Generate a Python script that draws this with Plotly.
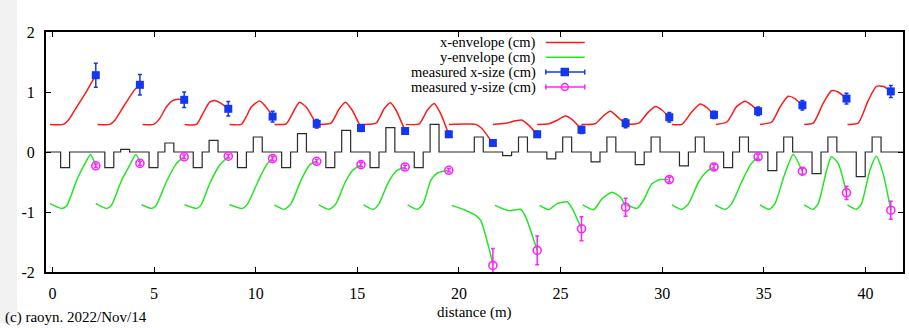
import plotly.graph_objects as go

# ---------------- data ----------------
# measured positions (m)
meas_s = [2.13, 4.30, 6.48, 8.65, 10.83, 13.00, 15.18, 17.35, 19.50, 21.67,
          23.85, 26.03, 28.20, 30.35, 32.55, 34.72, 36.90, 39.07, 41.25]
meas_x = [1.28, 1.12, 0.87, 0.72, 0.59, 0.47, 0.40, 0.35, 0.295, 0.15,
          0.295, 0.37, 0.48, 0.58, 0.62, 0.68, 0.78, 0.89, 1.01]
meas_x_err = [0.20, 0.17, 0.13, 0.12, 0.09, 0.07, 0.06, 0.05, 0.05, 0.05,
              0.05, 0.06, 0.075, 0.08, 0.06, 0.07, 0.08, 0.09, 0.10]
meas_y = [-0.23, -0.19, -0.08, -0.07, -0.11, -0.155, -0.21, -0.25, -0.305, -1.89,
          -1.64, -1.28, -0.92, -0.46, -0.25, -0.08, -0.32, -0.68, -0.97]
meas_y_err = [0.03, 0.03, 0.03, 0.03, 0.03, 0.03, 0.03, 0.03, 0.03, 0.28,
              0.24, 0.20, 0.15, 0.04, 0.04, 0.04, 0.05, 0.11, 0.15]

# x-envelope segments (s, value)
xenv = [
    [(-0.12, 0.46), (0.53, 0.46), (0.78, 0.53), (1.19, 0.75), (1.60, 0.97), (1.84, 1.11), (2.13, 1.28)],
    [(2.22, 0.46), (2.82, 0.46), (3.07, 0.53), (3.48, 0.75), (3.80, 0.92), (4.05, 1.04), (4.30, 1.13)],
    [(4.43, 0.46), (4.98, 0.46), (5.28, 0.56), (5.60, 0.75), (5.93, 0.86), (6.18, 0.88), (6.50, 0.87)],
    [(6.50, 0.46), (7.08, 0.46), (7.40, 0.64), (7.73, 0.83), (7.98, 0.86), (8.30, 0.81), (8.63, 0.72)],
    [(8.71, 0.46), (9.29, 0.46), (9.55, 0.60), (9.78, 0.75), (10.19, 0.85), (10.51, 0.75), (10.84, 0.595)],
    [(10.92, 0.46), (11.50, 0.47), (11.90, 0.70), (12.15, 0.83), (12.48, 0.75), (12.97, 0.47)],
    [(13.10, 0.46), (13.70, 0.48), (14.11, 0.72), (14.41, 0.83), (14.74, 0.70), (15.18, 0.40)],
    [(15.26, 0.46), (15.92, 0.48), (16.32, 0.72), (16.62, 0.82), (16.90, 0.70), (17.34, 0.36)],
    [(17.39, 0.46), (18.04, 0.47), (18.45, 0.70), (18.78, 0.81), (19.10, 0.64), (19.48, 0.31)],
    [(19.51, 0.46), (20.30, 0.465), (20.82, 0.46), (21.10, 0.40), (21.32, 0.31), (21.65, 0.15)],
    [(21.67, 0.46), (22.30, 0.48), (22.79, 0.52), (23.11, 0.53), (23.45, 0.44), (23.85, 0.295)],
    [(23.85, 0.46), (24.42, 0.47), (24.83, 0.53), (25.24, 0.60), (25.60, 0.53), (26.03, 0.37)],
    [(26.03, 0.46), (26.70, 0.47), (27.10, 0.60), (27.45, 0.68), (27.85, 0.57), (28.20, 0.48)],
    [(28.22, 0.46), (28.85, 0.48), (29.25, 0.64), (29.66, 0.76), (29.99, 0.70), (30.33, 0.58)],
    [(30.48, 0.46), (30.97, 0.46), (31.46, 0.67), (31.87, 0.80), (32.20, 0.74), (32.56, 0.62)],
    [(32.64, 0.46), (33.18, 0.50), (33.67, 0.76), (34.08, 0.845), (34.40, 0.78), (34.73, 0.68)],
    [(34.81, 0.46), (35.39, 0.50), (35.80, 0.75), (36.20, 0.93), (36.53, 0.89), (36.89, 0.78)],
    [(36.99, 0.46), (37.43, 0.48), (37.92, 0.81), (38.33, 1.02), (38.66, 1.00), (39.07, 0.89)],
    [(39.12, 0.46), (39.64, 0.48), (40.14, 0.86), (40.54, 1.095), (40.87, 1.095), (41.25, 1.01)],
]

# y-envelope segments (s, value)  (plotted negative)
yenv = [
    [(-0.12, -0.86), (0.45, -0.94), (0.69, -0.90), (1.19, -0.47), (1.60, -0.19), (1.87, -0.04), (2.13, -0.23)],
    [(2.13, -0.86), (2.66, -0.94), (2.90, -0.89), (3.40, -0.47), (3.80, -0.22), (4.10, -0.04), (4.33, -0.19)],
    [(4.38, -0.88), (4.87, -0.94), (5.10, -0.89), (5.60, -0.50), (6.10, -0.19), (6.47, -0.08)],
    [(6.50, -0.88), (7.08, -0.94), (7.30, -0.89), (7.73, -0.53), (8.22, -0.22), (8.68, -0.07)],
    [(8.71, -0.88), (9.34, -0.94), (9.61, -0.86), (10.10, -0.50), (10.52, -0.22), (10.81, -0.11)],
    [(10.92, -0.88), (11.41, -0.955), (11.74, -0.86), (12.23, -0.47), (12.64, -0.22), (12.97, -0.155)],
    [(13.10, -0.88), (13.62, -0.955), (13.95, -0.86), (14.41, -0.50), (14.77, -0.305), (15.18, -0.21)],
    [(15.31, -0.88), (15.78, -0.955), (16.07, -0.86), (16.49, -0.53), (16.90, -0.32), (17.34, -0.25)],
    [(17.47, -0.88), (17.96, -0.955), (18.24, -0.86), (18.62, -0.47), (18.94, -0.35), (19.48, -0.305)],
    [(19.65, -0.89), (20.30, -0.97), (20.82, -1.055), (21.07, -1.14), (21.69, -1.89)],
    [(21.77, -0.89), (22.46, -0.98), (23.03, -0.955), (23.28, -1.08), (23.85, -1.64)],
    [(23.97, -0.89), (24.42, -0.96), (24.83, -0.86), (25.32, -0.83), (25.57, -0.94), (26.03, -1.28)],
    [(26.09, -0.88), (26.63, -0.96), (27.04, -0.78), (27.53, -0.67), (27.94, -0.75), (28.22, -0.92)],
    [(28.25, -0.88), (28.76, -0.94), (29.08, -0.805), (29.49, -0.53), (29.90, -0.46), (30.31, -0.46)],
    [(30.48, -0.88), (30.97, -0.955), (31.30, -0.86), (31.79, -0.50), (32.20, -0.32), (32.56, -0.25)],
    [(32.61, -0.88), (33.10, -0.955), (33.42, -0.86), (33.91, -0.50), (34.33, -0.22), (34.70, -0.08)],
    [(34.81, -0.88), (35.27, -0.955), (35.55, -0.86), (36.04, -0.36), (36.45, -0.04), (36.89, -0.32)],
    [(36.99, -0.88), (37.43, -0.955), (37.68, -0.86), (38.09, -0.305), (38.33, -0.08), (38.66, -0.19), (39.07, -0.68)],
    [(39.12, -0.88), (39.56, -0.955), (39.81, -0.86), (40.22, -0.305), (40.54, -0.07), (40.87, -0.36), (41.25, -0.97)],
]

# magnet lattice (quadrupole strengths as drawn)
cell_start = [0.4 + 2.175 * k for k in range(19)]
quad_neg = [-0.26] * 9 + [0.0] + [-0.06, -0.115, -0.165, -0.21, -0.23, -0.26, -0.31, -0.36, -0.41]
quad_pos = [0.0, 0.045, 0.15, 0.195, 0.25, 0.305, 0.36, 0.405, 0.46] + [0.25] * 10
quad_len = 0.44
pos_offset = 0.78

xticks = [0, 5, 10, 15, 20, 25, 30, 35, 40]
yticks = [-2, -1, 0, 1, 2]
ytick_text = ["-2", "-1", "0", "1", "2"]

# ---------------- build traces ----------------
def flatten(segs):
    xs, ys = [], []
    for seg in segs:
        for a, b in seg:
            xs.append(a)
            ys.append(b)
        xs.append(None)
        ys.append(None)
    return xs, ys

step_x, step_y = [-1.0], [0.0]
for c, qn, qp in zip(cell_start, quad_neg, quad_pos):
    for a, h in ((c, qn), (c + pos_offset, qp)):
        if h != 0:
            b = a + quad_len
            step_x += [a, a, b, b]
            step_y += [0, h, h, 0]
step_x.append(43.0)
step_y.append(0.0)

RED = "#ff1a1a"
GREEN = "#22e622"
BLUE = "#1438f0"
MAG = "#ff22ff"
FONT = "'Liberation Serif', 'Times New Roman', 'DejaVu Serif', serif"

fig = go.Figure()
fig.add_trace(go.Scatter(x=step_x, y=step_y, mode="lines",
                         line=dict(color="#2a2a2a", width=1.2), hoverinfo="skip"))
xx, xy = flatten(xenv)
fig.add_trace(go.Scatter(x=xx, y=xy, mode="lines", connectgaps=False,
                         line=dict(color=RED, width=1.5, shape="spline", smoothing=0.6)))
yx, yy = flatten(yenv)
fig.add_trace(go.Scatter(x=yx, y=yy, mode="lines", connectgaps=False,
                         line=dict(color=GREEN, width=1.5, shape="spline", smoothing=0.6)))
fig.add_trace(go.Scatter(x=meas_s, y=meas_x, mode="markers",
                         marker=dict(symbol="square", size=8, color=BLUE),
                         error_y=dict(type="data", array=meas_x_err, color=BLUE,
                                      thickness=1.5, width=2)))
fig.add_trace(go.Scatter(x=meas_s, y=meas_y, mode="markers",
                         marker=dict(symbol="circle-open", size=8, color=MAG,
                                     line=dict(width=1.6, color=MAG)),
                         error_y=dict(type="data", array=meas_y_err, color=MAG,
                                      thickness=1.5, width=2)))

# ---------------- custom legend (pixel overlay axes) ----------------
leg_labels = ["x-envelope (cm)", "y-envelope (cm)", "measured x-size (cm)", "measured y-size (cm)"]
leg_rows = [42.5, 57.3, 72.1, 87]
lx0, lx1, lxm, ltext = 547, 586, 566, 538
for i, (lab, yr) in enumerate(zip(leg_labels, leg_rows)):
    col = [RED, GREEN, BLUE, MAG][i]
    fig.add_trace(go.Scatter(x=[lx0, lx1], y=[yr, yr], mode="lines",
                             line=dict(color=col, width=1.5),
                             xaxis="x2", yaxis="y2", hoverinfo="skip"))
    if i >= 2:
        fig.add_trace(go.Scatter(x=[lx0, lx0, None, lx1, lx1], y=[yr - 2.5, yr + 2.5, None, yr - 2.5, yr + 2.5],
                                 mode="lines", line=dict(color=col, width=1.5),
                                 xaxis="x2", yaxis="y2", hoverinfo="skip"))
        sym = "square" if i == 2 else "circle-open"
        fig.add_trace(go.Scatter(x=[lxm], y=[yr], mode="markers",
                                 marker=dict(symbol=sym, size=7, color=col,
                                             line=dict(width=1.5, color=col)),
                                 xaxis="x2", yaxis="y2", hoverinfo="skip"))
    fig.add_annotation(x=ltext, y=yr, xref="x2", yref="y2", text=lab, showarrow=False,
                       xanchor="right", yanchor="middle", borderpad=0,
                       font=dict(family=FONT, size=14.5, color="black"))

fig.add_annotation(x=0.5, y=-0.1667, xref="paper", yref="paper", text="distance (m)",
                   showarrow=False, xanchor="center", yanchor="middle",
                   font=dict(family=FONT, size=15, color="black"))
fig.add_annotation(x=(3 - 46) / 859, y=1 - (317 - 32) / 240, xref="paper", yref="paper",
                   text="(c) raoyn. 2022/Nov/14", showarrow=False, xanchor="left", yanchor="middle",
                   font=dict(family=FONT, size=15, color="black"))

fig.add_shape(type="rect", xref="paper", yref="paper",
              x0=-46 / 859, x1=(17 - 46) / 859, y0=1 - (323 - 32) / 240, y1=1 + 32 / 240,
              fillcolor="#f2f2f2", line=dict(width=0), layer="below")

axis_common = dict(showline=True, linewidth=2, linecolor="black", mirror="allticks",
                   ticks="inside", ticklen=5, tickwidth=1.3, tickcolor="black",
                   showgrid=False, zeroline=False,
                   tickfont=dict(family=FONT, size=16, color="black"))

fig.update_layout(
    width=909, height=328, autosize=False,
    margin=dict(l=46, r=4, t=32, b=56),
    paper_bgcolor="white", plot_bgcolor="white",
    showlegend=False,
    font=dict(family=FONT),
    xaxis=dict(range=[-0.32, 41.85], tickvals=xticks, ticklabelstandoff=6, **axis_common),
    yaxis=dict(range=[-2, 2], tickvals=yticks, ticktext=ytick_text, ticklabelstandoff=6, **axis_common),
    xaxis2=dict(overlaying="x", range=[46, 905], visible=False, fixedrange=True),
    yaxis2=dict(overlaying="y", range=[272, 32], visible=False, fixedrange=True),
)

fig.write_html("out.html")
